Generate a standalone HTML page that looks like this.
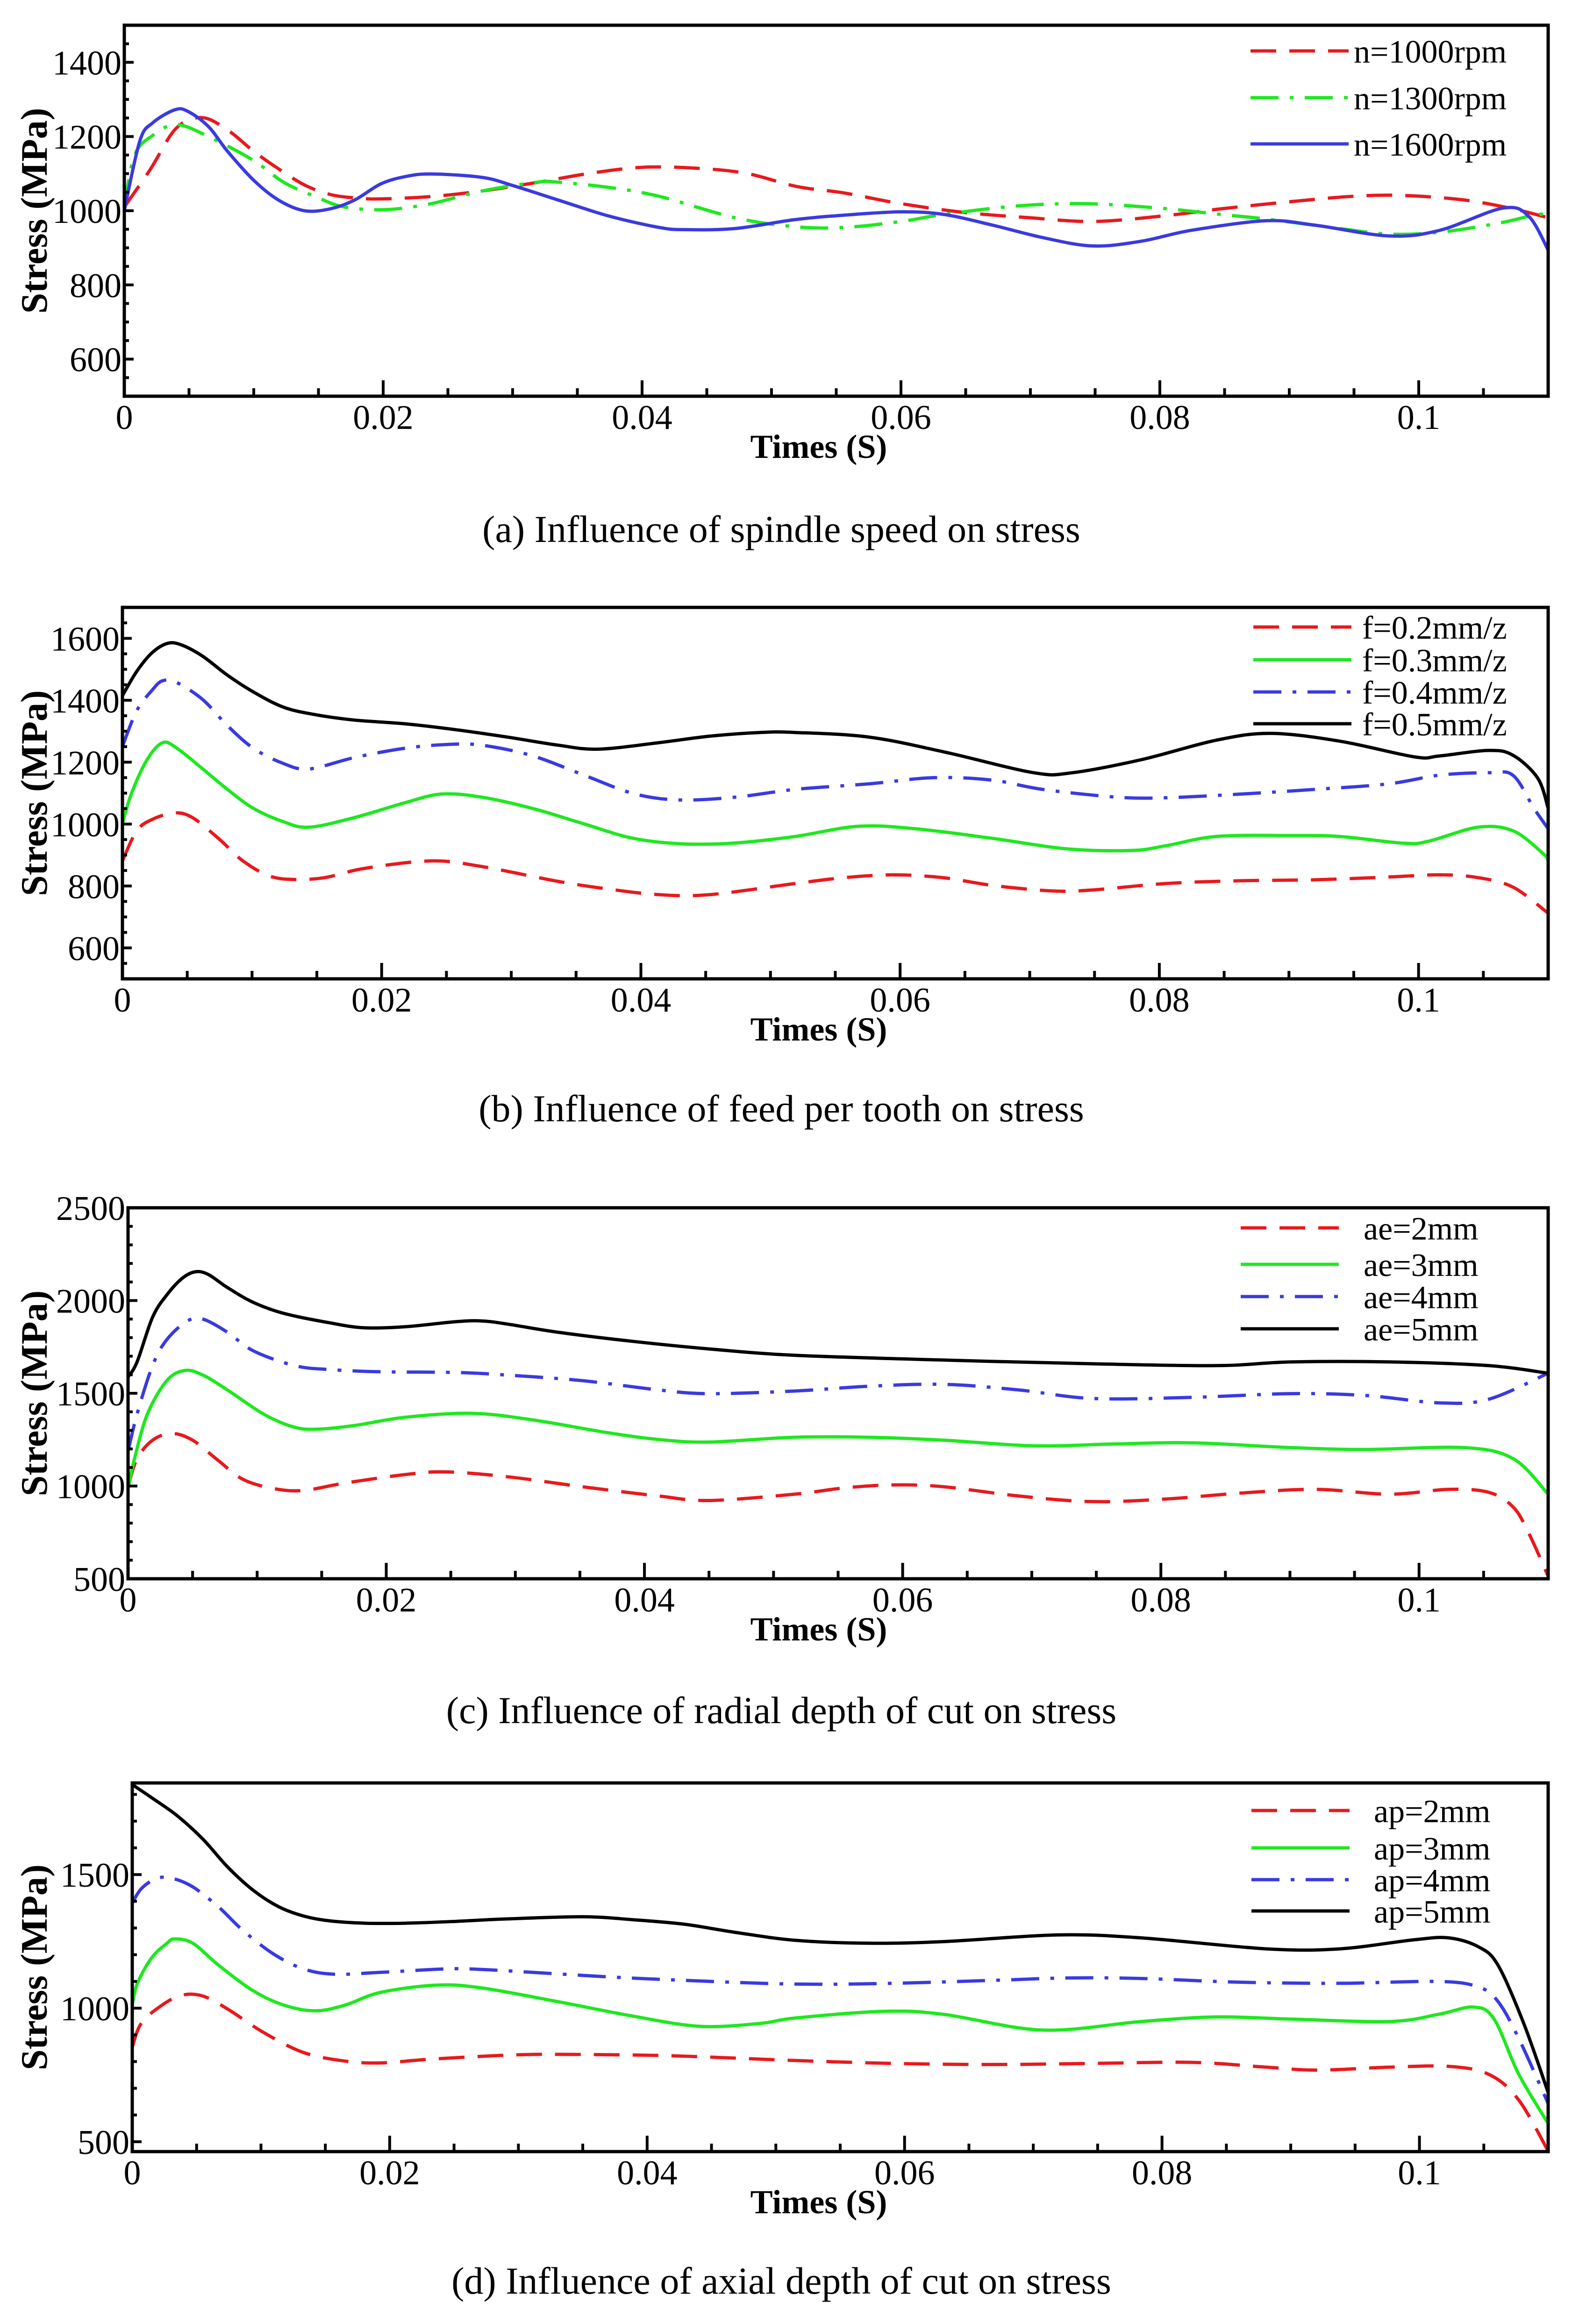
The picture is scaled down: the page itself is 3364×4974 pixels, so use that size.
<!DOCTYPE html>
<html><head><meta charset="utf-8"><style>
html,body{margin:0;padding:0;background:#fff;}
svg{display:block;}
</style></head><body>
<svg id="fig" xmlns="http://www.w3.org/2000/svg" width="3364" height="4974" viewBox="0 0 3364 4974"></svg>
<script>
// ---- Panel (a) spindle speed ----
const aRedT=[0,0.002,0.004,0.006,0.008,0.010,0.012,0.014,0.016,0.018,0.020,0.024,0.028,0.032,0.036,0.040,0.044,0.048,0.052,0.0556,0.060,0.065,0.070,0.0748,0.080,0.0847,0.090,0.095,0.0989,0.1035,0.1073,0.110];
const aRedV=[1010,1111,1222,1251,1217,1160,1111,1068,1043,1034,1032,1039,1055,1077,1101,1117,1115,1101,1065,1048,1019,995,981,971,985,1005,1024,1039,1041,1029,1005,981];
const aGreenT=[0,0.0008,0.0022,0.0041,0.0069,0.010,0.0123,0.0147,0.017,0.0202,0.0237,0.0276,0.0319,0.0335,0.0374,0.0413,0.0472,0.0518,0.0556,0.060,0.0633,0.069,0.0743,0.080,0.0847,0.0881,0.0939,0.0977,0.1016,0.1061,0.1092,0.110];
const aGreenV=[1010,1150,1203,1232,1193,1135,1077,1039,1010,1003,1019,1053,1077,1077,1063,1039,981,957,955,971,990,1013,1019,1007,990,978,952,937,942,966,990,985];
const aBlueT=[0,0.0012,0.0022,0.0039,0.0049,0.0065,0.008,0.010,0.0119,0.0139,0.0159,0.0178,0.0198,0.0217,0.0237,0.0276,0.030,0.0335,0.0374,0.0413,0.0433,0.0472,0.0518,0.0556,0.060,0.0633,0.0671,0.0709,0.0748,0.0786,0.0824,0.0882,0.092,0.0977,0.1016,0.1065,0.1085,0.110];
const aBlueV=[1000,1188,1237,1272,1268,1227,1159,1082,1029,1000,1005,1029,1072,1092,1099,1090,1068,1029,986,955,949,952,976,988,997,990,961,928,905,918,947,973,961,932,947,1007,985,894];
// ---- Panel (b) feed per tooth ----
const bRedT=[0,0.0011,0.0023,0.004,0.0054,0.0074,0.0093,0.0113,0.0132,0.0156,0.0187,0.0238,0.0277,0.0336,0.0375,0.0414,0.0453,0.0519,0.0557,0.0595,0.0633,0.0671,0.0717,0.0748,0.0805,0.0863,0.092,0.0977,0.1016,0.1046,0.1073,0.110];
const bRedV=[881,978,1015,1036,1021,954,881,833,821,827,857,881,863,815,790,772,772,808,827,836,827,802,784,787,808,817,820,829,836,827,796,712];
const bGreenT=[0,0.0007,0.0019,0.0031,0.0042,0.0062,0.0081,0.0101,0.0124,0.0144,0.0179,0.0218,0.0246,0.0277,0.0316,0.0355,0.0394,0.0433,0.0473,0.0519,0.0568,0.0614,0.0671,0.0729,0.0779,0.0805,0.0844,0.0901,0.0939,0.0989,0.1008,0.1046,0.1073,0.1096,0.110];
const bGreenV=[1002,1099,1208,1263,1245,1178,1112,1051,1008,990,1021,1069,1097,1087,1051,1002,954,936,939,960,993,984,954,920,915,930,960,963,960,938,945,990,978,905,881];
const bBlueT=[0,0.0011,0.0023,0.0031,0.0042,0.0062,0.0081,0.0101,0.0124,0.0144,0.0179,0.0218,0.025,0.0277,0.0316,0.0355,0.0394,0.0429,0.0473,0.0519,0.0576,0.0626,0.0671,0.071,0.0767,0.0805,0.0863,0.092,0.0977,0.1016,0.1054,0.1073,0.1089,0.110];
const bBlueV=[1251,1366,1433,1463,1457,1402,1318,1245,1196,1178,1215,1245,1257,1255,1221,1160,1099,1078,1087,1112,1130,1150,1142,1112,1087,1085,1097,1112,1130,1158,1166,1157,1051,985];
const bBlackT=[0,0.0011,0.0023,0.0035,0.0046,0.0062,0.0081,0.0101,0.0124,0.0148,0.0179,0.0218,0.0257,0.0297,0.0336,0.0367,0.0414,0.0453,0.0492,0.0519,0.0576,0.0634,0.0703,0.0733,0.0786,0.0844,0.0886,0.0939,0.0997,0.1016,0.1054,0.1073,0.1092,0.110];
const bBlackV=[1415,1493,1554,1584,1578,1542,1481,1427,1378,1354,1336,1324,1305,1281,1255,1242,1263,1284,1296,1296,1281,1233,1166,1166,1208,1271,1293,1268,1217,1220,1238,1222,1148,1051];
// ---- Panel (c) radial depth ----
const cRedT=[0,0.0007,0.0019,0.0034,0.005,0.007,0.0089,0.0113,0.0136,0.0168,0.0215,0.0246,0.0294,0.0352,0.0411,0.045,0.0516,0.0555,0.0593,0.0632,0.069,0.0747,0.0804,0.0862,0.092,0.0977,0.1023,0.1054,0.1073,0.1085,0.110];
const cRedV=[996,1147,1247,1283,1247,1137,1036,986,976,1016,1062,1076,1050,996,946,922,956,990,1006,996,946,916,930,962,982,956,982,966,886,745,514];
const cGreenT=[0,0.0005,0.0015,0.003,0.0044,0.0058,0.0077,0.0105,0.0129,0.0148,0.0176,0.0215,0.0266,0.0313,0.0372,0.0411,0.045,0.0516,0.0574,0.0632,0.0701,0.0766,0.0824,0.0901,0.0959,0.1035,0.1073,0.110];
const cGreenV=[986,1147,1388,1568,1623,1598,1518,1388,1317,1307,1327,1371,1392,1357,1287,1251,1237,1263,1263,1247,1217,1227,1233,1207,1197,1207,1147,956];
const cBlueT=[0,0.0007,0.0019,0.003,0.0046,0.0058,0.0077,0.0097,0.0129,0.0156,0.0195,0.0254,0.0294,0.0352,0.0411,0.045,0.0516,0.0574,0.0632,0.069,0.0747,0.0824,0.0901,0.0959,0.1016,0.1054,0.110];
const cBlueV=[1187,1388,1649,1789,1890,1900,1829,1729,1649,1628,1616,1612,1598,1568,1518,1498,1512,1538,1548,1518,1472,1478,1498,1488,1448,1468,1608];
const cBlackT=[0,0.0007,0.0019,0.003,0.0042,0.0052,0.0062,0.0077,0.0097,0.0121,0.0156,0.0183,0.0215,0.0254,0.0274,0.0294,0.0333,0.0392,0.045,0.0516,0.0632,0.0747,0.0843,0.0901,0.0977,0.1054,0.110];
const cBlackV=[1588,1669,1910,2030,2120,2155,2141,2070,1990,1930,1880,1853,1859,1886,1890,1873,1829,1779,1739,1705,1679,1659,1649,1669,1669,1649,1608];
// ---- Panel (d) axial depth ----
const dRedT=[0,0.0007,0.0023,0.0039,0.0055,0.0074,0.0102,0.0133,0.0165,0.0193,0.0232,0.0291,0.033,0.0409,0.0468,0.0515,0.0591,0.0669,0.0746,0.0823,0.0881,0.092,0.0977,0.1023,0.1054,0.1077,0.110];
const dRedV=[854,943,1011,1049,1045,997,909,834,802,795,809,824,827,823,813,804,793,789,793,797,779,768,779,782,752,657,465];
const dGreenT=[0,0.0004,0.0015,0.0027,0.0033,0.0047,0.0067,0.0094,0.0118,0.0142,0.0165,0.0193,0.0236,0.0271,0.033,0.0389,0.0441,0.0488,0.0515,0.0584,0.063,0.0707,0.0784,0.0842,0.090,0.0977,0.1015,0.1042,0.1058,0.1077,0.110];
const dGreenV=[1011,1093,1188,1243,1259,1243,1161,1065,1011,990,1011,1059,1086,1076,1025,970,932,943,963,988,977,918,950,967,959,950,977,1004,959,754,568];
const dBlueT=[0,0.0007,0.0019,0.0031,0.0047,0.0067,0.0086,0.011,0.0133,0.0157,0.0193,0.0244,0.0271,0.0311,0.037,0.0429,0.0515,0.0591,0.0669,0.0727,0.0784,0.0861,0.0938,0.1015,0.1046,0.1061,0.1077,0.110];
const dBlueV=[1393,1447,1486,1486,1454,1379,1291,1202,1147,1127,1134,1147,1145,1134,1117,1104,1090,1093,1104,1113,1111,1097,1093,1100,1079,1025,888,643];
const dBlackT=[0,0.0015,0.0035,0.0055,0.0074,0.0094,0.0114,0.0133,0.0153,0.0181,0.0212,0.0252,0.0291,0.035,0.0389,0.0429,0.0468,0.0515,0.0572,0.063,0.0719,0.0784,0.0881,0.0938,0.0996,0.1023,0.1046,0.1061,0.1081,0.110];
const dBlackV=[1837,1788,1720,1632,1529,1441,1379,1345,1327,1318,1318,1325,1334,1342,1331,1314,1284,1254,1243,1249,1274,1263,1222,1222,1256,1263,1229,1161,943,684];
// tick labels
const xTickVals=[0,0.02,0.04,0.06,0.08,0.1];
const xTickLabels=["0","0.02","0.04","0.06","0.08","0.1"];
const aYTicks=[600,800,1000,1200,1400];
const bYTicks=[600,800,1000,1200,1400,1600];
const cYTicks=[500,1000,1500,2000,2500];
const dYTicks=[500,1000,1500];
const aLegend=["n=1000rpm","n=1300rpm","n=1600rpm"];
const bLegend=["f=0.2mm/z","f=0.3mm/z","f=0.4mm/z","f=0.5mm/z"];
const cLegend=["ae=2mm","ae=3mm","ae=4mm","ae=5mm"];
const dLegend=["ap=2mm","ap=3mm","ap=4mm","ap=5mm"];
const captions=["(a) Influence of spindle speed on stress","(b) Influence of feed per tooth on stress","(c) Influence of radial depth of cut on stress","(d) Influence of axial depth of cut on stress"];

const NS="http://www.w3.org/2000/svg";
const svg=document.getElementById('fig');
function mk(tag,attrs,parent){const e=document.createElementNS(NS,tag);for(const k in attrs)e.setAttribute(k,attrs[k]);(parent||svg).appendChild(e);return e;}
const RED="#e8191d",GREEN="#1ee81e",BLUE="#3a3ae0",BLACK="#000";
const DASH="55 28",DASHDOT="60 24 8 24";
const panels=[
 {id:'a',L:266,R:3313,T:54,B:848,y0:500,y1:1500,minor:50,yt:aYTicks,cap:1160,legX:2676,legText:2897,legY:[109,209,308],leg:aLegend,
  series:[[aRedT,aRedV,RED,DASH],[aGreenT,aGreenV,GREEN,DASHDOT],[aBlueT,aBlueV,BLUE,null]]},
 {id:'b',L:262,R:3313,T:1300,B:2095,y0:500,y1:1700,minor:50,yt:bYTicks,cap:2400,legX:2682,legText:2915,legY:[1342,1412,1481,1549],leg:bLegend,
  series:[[bRedT,bRedV,RED,DASH],[bGreenT,bGreenV,GREEN,null],[bBlueT,bBlueV,BLUE,DASHDOT],[bBlackT,bBlackV,BLACK,null]]},
 {id:'c',L:274,R:3313,T:2585,B:3379,y0:500,y1:2500,minor:100,yt:cYTicks,cap:3688,legX:2655,legText:2918,legY:[2628,2706,2775,2844],leg:cLegend,
  series:[[cRedT,cRedV,RED,DASH],[cGreenT,cGreenV,GREEN,null],[cBlueT,cBlueV,BLUE,DASHDOT],[cBlackT,cBlackV,BLACK,null]]},
 {id:'d',L:283,R:3313,T:3816,B:4605,y0:463,y1:1843,minor:100,yt:dYTicks,cap:4909,legX:2678,legText:2940,legY:[3875,3955,4023,4090],leg:dLegend,
  series:[[dRedT,dRedV,RED,DASH],[dGreenT,dGreenV,GREEN,null],[dBlueT,dBlueV,BLUE,DASHDOT],[dBlackT,dBlackV,BLACK,null]]}
];
function smoothPath(pts){
  let d="M"+pts[0][0].toFixed(1)+","+pts[0][1].toFixed(1);
  for(let i=0;i<pts.length-1;i++){
    const p0=pts[i-1]||pts[i],p1=pts[i],p2=pts[i+1],p3=pts[i+2]||p2;
    const c1=[p1[0]+(p2[0]-p0[0])/6,p1[1]+(p2[1]-p0[1])/6];
    const c2=[p2[0]-(p3[0]-p1[0])/6,p2[1]-(p3[1]-p1[1])/6];
    d+=" C"+c1[0].toFixed(1)+","+c1[1].toFixed(1)+" "+c2[0].toFixed(1)+","+c2[1].toFixed(1)+" "+p2[0].toFixed(1)+","+p2[1].toFixed(1);
  }
  return d;
}
panels.forEach((p,pi)=>{
  const g=mk('g',{});
  
  
  const xs=t=>p.L+(t/0.11)*(p.R-p.L);
  const ys=v=>p.B-(v-p.y0)/(p.y1-p.y0)*(p.B-p.T);
  const clipId='clip'+p.id;
  const cp=mk('clipPath',{id:clipId},g);
  mk('rect',{x:p.L,y:p.T,width:p.R-p.L,height:p.B-p.T},cp);
  p.series.forEach((s,si)=>{
    const pts=s[0].map((t,i)=>[xs(t),ys(s[1][i])]);
    const path=mk('path',{d:smoothPath(pts),fill:'none',stroke:s[2],'stroke-width':7,'clip-path':'url(#'+clipId+')'},g);
    if(s[3])path.setAttribute('stroke-dasharray',s[3]);
    
    
  });
  const fr=mk('rect',{x:p.L,y:p.T,width:p.R-p.L,height:p.B-p.T,fill:'none',stroke:'#000','stroke-width':7},g);
  
  
  for(let k=1;k<=22;k++){
    const t=k*0.005;const x=xs(t);const major=(k%4===0);
    const tk=mk('line',{x1:x,x2:x,y1:p.B,y2:p.B-(major?34:17),stroke:'#000','stroke-width':6},g);
    
    
  }
  xTickVals.forEach((v,i)=>{
    const tx=mk('text',{x:xs(v),y:p.B+70,'text-anchor':'middle','font-family':'"Liberation Serif",serif','font-size':74},g);
    tx.textContent=xTickLabels[i];
    
    
  });
  const startV=Math.ceil(p.y0/p.minor)*p.minor;
  for(let v=startV;v<=p.y1;v+=p.minor){
    const y=ys(v);const major=p.yt.indexOf(v)>=0;
    const tk=mk('line',{x1:p.L,x2:p.L+(major?20:10),y1:y,y2:y,stroke:'#000','stroke-width':6},g);
    
    
  }
  p.yt.forEach(v=>{
    const tx=mk('text',{x:p.L-6,y:ys(v)+26,'text-anchor':'end','font-family':'"Liberation Serif",serif','font-size':74},g);
    tx.textContent=String(v);
    
    
  });
  const cy=(p.T+p.B)/2;
  const yt=mk('text',{x:0,y:0,transform:'translate(100,'+cy+') rotate(-90)','text-anchor':'middle','font-family':'"Liberation Serif",serif','font-size':80,'font-weight':'bold'},g);
  yt.textContent='Stress (MPa)';
  
  
  const xt=mk('text',{x:1752,y:p.B+132,'text-anchor':'middle','font-family':'"Liberation Serif",serif','font-size':72,'font-weight':'bold'},g);
  xt.textContent='Times (S)';
  
  
  p.leg.forEach((lab,i)=>{
    const s=p.series[i];const y=p.legY[i];
    const ln=mk('line',{x1:p.legX,x2:p.legX+210,y1:y,y2:y,stroke:s[2],'stroke-width':7},g);
    if(s[3])ln.setAttribute('stroke-dasharray',s[3]);
    
    
    const tx=mk('text',{x:p.legText,y:y+25,'font-family':'"Liberation Serif",serif','font-size':70},g);
    tx.textContent=lab;
    
    
  });
  const cap=mk('text',{x:1672,y:p.cap,'text-anchor':'middle','font-family':'"Liberation Serif",serif','font-size':82},g);
  cap.textContent=captions[pi];
  
  
});
</script>
</body></html>
